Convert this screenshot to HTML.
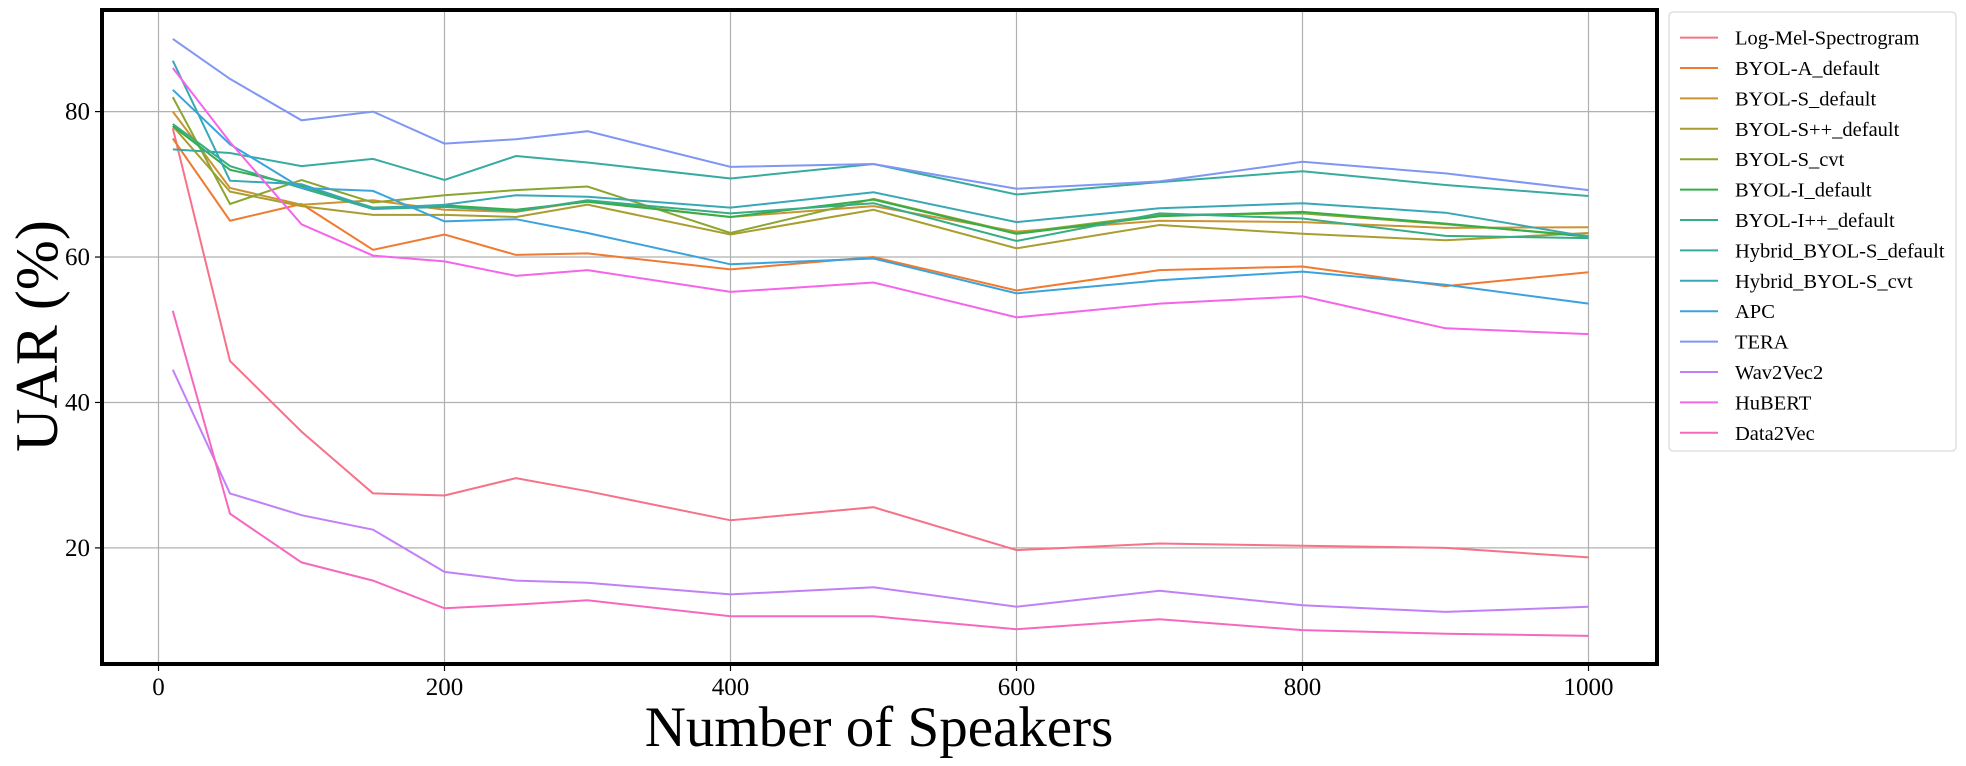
<!DOCTYPE html>
<html><head><meta charset="utf-8"><style>
html,body{margin:0;padding:0;background:#fff;}
svg{display:block;font-family:"Liberation Serif",serif;}
</style></head><body>
<svg id="chart" width="1966" height="766" xmlns="http://www.w3.org/2000/svg"></svg>
<script>
const xValues=[10,50,100,150,200,250,300,400,500,600,700,800,900,1000];
const seriesNames=["Log-Mel-Spectrogram","BYOL-A_default","BYOL-S_default","BYOL-S++_default","BYOL-S_cvt","BYOL-I_default","BYOL-I++_default","Hybrid_BYOL-S_default","Hybrid_BYOL-S_cvt","APC","TERA","Wav2Vec2","HuBERT","Data2Vec"];
const seriesColors=["#f77189","#f07a30","#cc9332","#aa9d2f","#8aa630","#35ae4a","#36ad84","#37aba0","#38a8b5","#3ba3dc","#7f96f5","#c280f6","#f564e9","#f668c0"];
const logMel=[77.7,45.7,36,27.5,27.2,29.6,27.8,23.8,25.6,19.7,20.6,20.3,20.0,18.7];
const byolA=[76.3,65,67.3,61,63.1,60.3,60.5,58.3,60,55.4,58.2,58.7,56,57.9];
const byolS=[80,69.5,67.2,67.8,66.5,66.2,67.7,65.5,67,63.5,65,64.8,64,64.1];
const byolSpp=[78,69,67,65.8,65.8,65.5,67.2,63.1,66.5,61.2,64.4,63.2,62.3,63.3];
const byolScvt=[82,67.3,70.6,67.5,68.5,69.2,69.7,63.3,68,63.3,65.8,66,64.5,62.9];
const byolI=[78,72,69.8,66.8,67.1,66.5,67.6,65.5,67.9,63.2,65.6,66.2,64.6,62.8];
const byolIpp=[78.3,72.5,69.5,66.6,66.9,66.3,67.8,66,67.4,62.2,66,65.3,62.9,62.6];
const hybridDefault=[74.8,74.3,72.5,73.5,70.6,73.9,73,70.8,72.8,68.6,70.3,71.8,69.9,68.4];
const hybridCvt=[87,70.5,70,66.7,67.2,68.5,68.3,66.8,68.9,64.8,66.7,67.4,66.1,62.8];
const apc=[83,75.5,69.5,69.1,64.9,65.2,63.3,59,59.8,55,56.8,58,56.2,53.6];
const tera=[90,84.5,78.8,80,75.6,76.2,77.3,72.4,72.8,69.4,70.4,73.1,71.5,69.2];
const wav2vec2=[44.5,27.5,24.5,22.5,16.7,15.5,15.2,13.6,14.6,11.9,14.1,12.1,11.2,11.9];
const hubert=[86,75.8,64.5,60.2,59.4,57.4,58.2,55.2,56.5,51.7,53.6,54.6,50.2,49.4];
const data2vec=[52.6,24.7,18,15.5,11.7,12.2,12.8,10.6,10.6,8.8,10.2,8.7,8.2,7.9];
const seriesValues=[logMel,byolA,byolS,byolSpp,byolScvt,byolI,byolIpp,hybridDefault,hybridCvt,apc,tera,wav2vec2,hubert,data2vec];
const xTicks=[0,200,400,600,800,1000];
const yTicks=[20,40,60,80];

const NS="http://www.w3.org/2000/svg";
const svg=document.getElementById('chart');
function mk(tag,attrs,parent){const e=document.createElementNS(NS,tag);for(const k in attrs)e.setAttribute(k,attrs[k]);(parent||svg).appendChild(e);return e;}
const L=102,R=1657,T=10,B=664;
function xs(v){return 158.5+(v-0)*(1588.5-158.5)/1000;}
function ys(v){return 547.9+(v-20)*(111.6-547.9)/60;}

const grid=mk('g',{});


xTicks.forEach(t=>{
  const l=mk('line',{x1:xs(t),x2:xs(t),y1:T,y2:B,stroke:'#b0b0b0','stroke-width':1.2},grid);
  
  
  const tk=mk('line',{x1:xs(t),x2:xs(t),y1:B,y2:B+7,stroke:'#000','stroke-width':1.2},grid);
  
  
  const tx=mk('text',{x:xs(t),y:695,'font-size':25,'text-anchor':'middle',fill:'#000'},grid);
  tx.textContent=t;
  
  
});
yTicks.forEach(t=>{
  const l=mk('line',{x1:L,x2:R,y1:ys(t),y2:ys(t),stroke:'#b0b0b0','stroke-width':1.2},grid);
  
  
  const tk=mk('line',{x1:L-7,x2:L,y1:ys(t),y2:ys(t),stroke:'#000','stroke-width':1.2},grid);
  
  
  const tx=mk('text',{x:90,y:ys(t)+8,'font-size':25,'text-anchor':'end',fill:'#000'},grid);
  tx.textContent=t;
  
  
});

seriesValues.forEach((vals,i)=>{
  const pts=vals.map((v,j)=>xs(xValues[j]).toFixed(1)+','+ys(v).toFixed(1)).join(' ');
  const p=mk('polyline',{points:pts,fill:'none',stroke:seriesColors[i],'stroke-width':2});
  
  
});

const frame=mk('rect',{x:L,y:T,width:R-L,height:B-T,fill:'none',stroke:'#000','stroke-width':4});



const xt=mk('text',{x:879,y:746,'font-size':57,'text-anchor':'middle',fill:'#000'});
xt.textContent='Number of Speakers';


const yt=mk('text',{x:0,y:0,'font-size':60,'text-anchor':'middle',fill:'#000',transform:'translate(57,336) rotate(-90)'});
yt.textContent='UAR (%)';



const leg=mk('g',{});


const lb=mk('rect',{x:1669,y:12,width:287,height:439,rx:4,fill:'#fff',stroke:'#d9d9d9','stroke-width':1.2},leg);


seriesNames.forEach((n,i)=>{
  const y=37.6+i*30.4;
  const g=mk('g',{},leg);
  
  
  mk('line',{x1:1680,x2:1718,y1:y,y2:y,stroke:seriesColors[i],'stroke-width':2},g);
  const t=mk('text',{x:1735,y:y+7,'font-size':20.5,fill:'#000'},g);
  t.textContent=n;
});
</script>
</body></html>
